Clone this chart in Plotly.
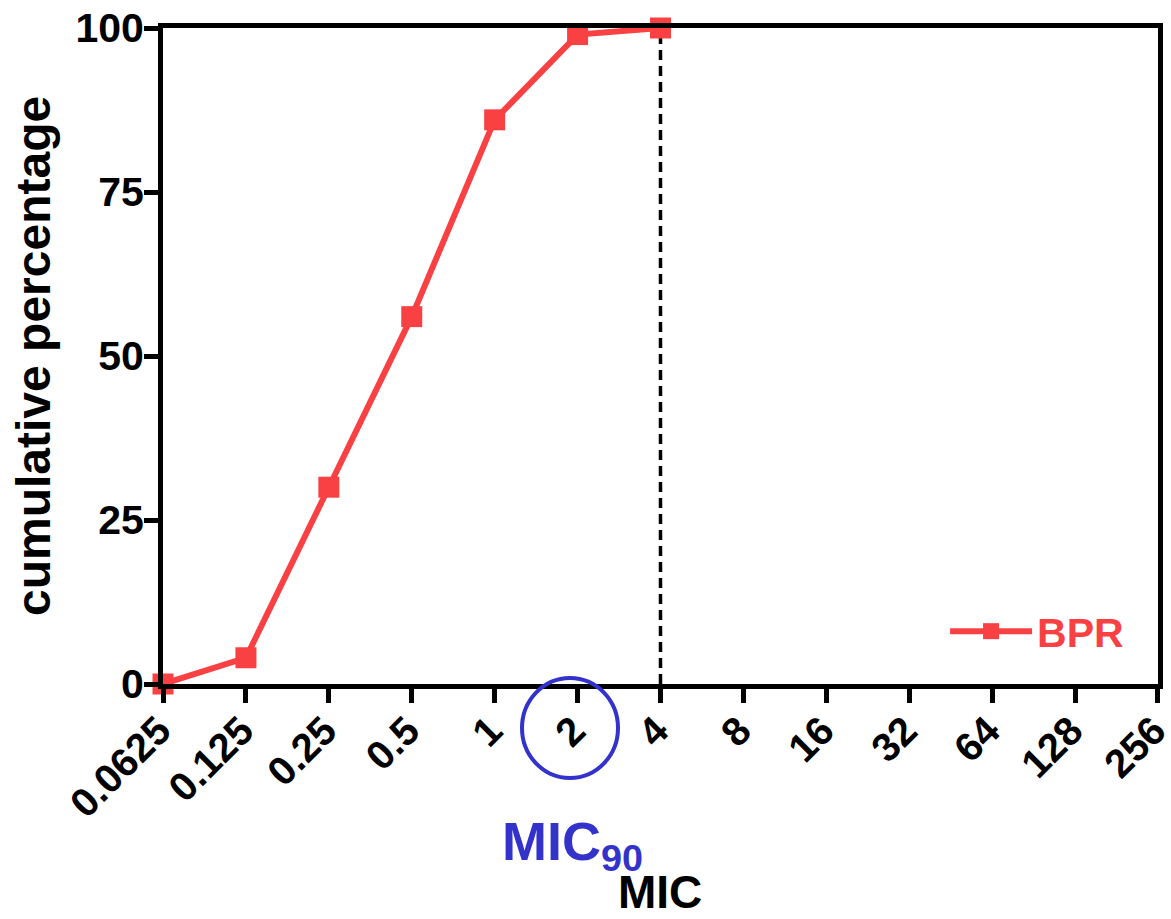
import plotly.graph_objects as go

mic = [0.0625, 0.125, 0.25, 0.5, 1, 2, 4]
cum_pct = [0, 4, 30, 56, 86, 99, 100]
tick_vals = [0.0625, 0.125, 0.25, 0.5, 1, 2, 4, 8, 16, 32, 64, 128, 256]
tick_text = ["0.0625", "0.125", "0.25", "0.5", "1", "2", "4", "8", "16", "32", "64", "128", "256"]
mic90_x = [4, 4]
mic90_y = [0, 100]

RED = "#f94144"
BLUE = "#3333cc"
FONT = "Liberation Sans, Arial, sans-serif"

fig = go.Figure()
fig.add_trace(go.Scatter(x=mic90_x, y=mic90_y, mode="lines",
                         line=dict(color="black", width=3.5, dash="10px,6px"),
                         showlegend=False, hoverinfo="skip"))
fig.add_trace(go.Scatter(x=mic, y=cum_pct, mode="lines+markers", name="BPR",
                         line=dict(color=RED, width=6),
                         marker=dict(symbol="square", size=21, color=RED),
                         cliponaxis=False))

fig.update_layout(
    width=1171, height=919,
    margin=dict(l=163, r=13, t=28, b=235),
    plot_bgcolor="white", paper_bgcolor="white",
    font=dict(family=FONT, color="black", weight="bold"),
    showlegend=True,
    legend=dict(x=0.786, y=0.08, xanchor="left", yanchor="middle",
                itemwidth=82,
                font=dict(size=41, color=RED, family=FONT, weight="bold"),
                bgcolor="rgba(0,0,0,0)"),
    xaxis=dict(type="log", range=[-1.20412, 2.4083],
               tickvals=tick_vals, ticktext=tick_text, tickangle=-45,
               tickfont=dict(size=40, family=FONT, weight="bold"),
               ticks="outside", ticklen=14, tickwidth=5, tickcolor="black",
               ticklabelstandoff=-12, ticklabelshift=-4, ticklabeloverflow="allow",
               showline=True, linewidth=5, linecolor="black", mirror=True,
               showgrid=False, zeroline=False, automargin=False),
    yaxis=dict(range=[0, 100], tickvals=[0, 25, 50, 75, 100],
               tickfont=dict(size=41, family=FONT, weight="bold"),
               ticks="outside", ticklen=14, tickwidth=5, tickcolor="black",
               ticklabelstandoff=-8,
               showline=True, linewidth=5, linecolor="black", mirror=True,
               showgrid=False, zeroline=False, automargin=False),
)

fig.add_annotation(text="MIC", xref="paper", yref="paper",
                   x=(660 - 163) / 995, y=(684 - 892) / 656,
                   showarrow=False, xanchor="center", yanchor="middle",
                   font=dict(size=46, color="black", family=FONT, weight="bold"))
fig.add_annotation(text="cumulative percentage", xref="paper", yref="paper",
                   x=(33 - 163) / 995, y=0.5, textangle=-90,
                   showarrow=False, xanchor="center", yanchor="middle",
                   font=dict(size=48, color="black", family=FONT, weight="bold"))

fig.add_shape(type="circle", xref="paper", yref="paper",
              x0=(522 - 163) / 995, x1=(618 - 163) / 995,
              y0=(684 - 778) / 656, y1=(684 - 678) / 656,
              line=dict(color=BLUE, width=4))
fig.add_annotation(text="MIC<sub>90</sub>", xref="paper", yref="paper",
                   x=(572 - 163) / 995, y=(684 - 845) / 656,
                   showarrow=False, xanchor="center", yanchor="middle",
                   font=dict(size=54, color=BLUE, family=FONT, weight="bold"))

fig.write_html("out.html")
